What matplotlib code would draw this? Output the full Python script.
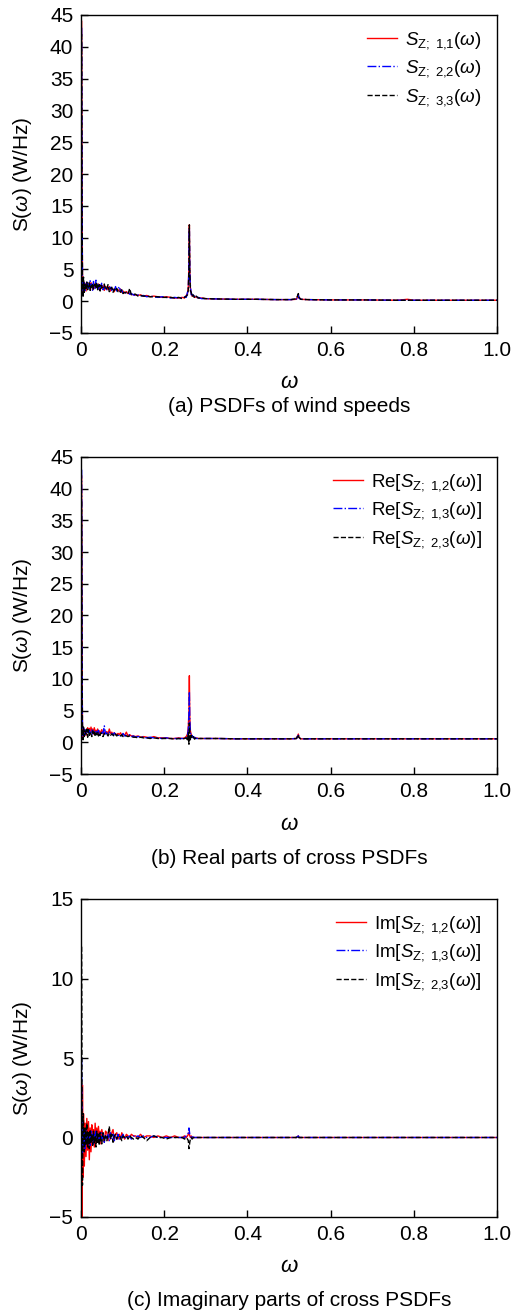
import matplotlib
matplotlib.use("Agg")
import matplotlib.pyplot as plt

plt.rcParams['font.family'] = ['Liberation Sans', 'DejaVu Sans']
plt.rcParams['mathtext.fontset'] = 'custom'
plt.rcParams['mathtext.rm'] = 'Liberation Sans'
plt.rcParams['mathtext.it'] = 'Liberation Sans:italic'
plt.rcParams['mathtext.bf'] = 'Liberation Sans:bold'

# frequency grid (shared by all series)
omega = [
    0.0015, 0.0025, 0.0035, 0.005, 0.006, 0.008, 0.010, 0.012, 0.014, 0.016,
    0.018, 0.020, 0.022, 0.024, 0.026, 0.028, 0.030, 0.032, 0.034, 0.036,
    0.038, 0.040, 0.042, 0.044, 0.046, 0.048, 0.050, 0.053, 0.056, 0.059,
    0.062, 0.065, 0.068, 0.071, 0.074, 0.077, 0.080, 0.083, 0.086, 0.089,
    0.092, 0.095, 0.098, 0.101, 0.105, 0.109, 0.113, 0.117, 0.121, 0.126,
    0.131, 0.137, 0.143, 0.150, 0.158, 0.166, 0.175, 0.185, 0.195, 0.205,
    0.215, 0.225, 0.235, 0.243, 0.249, 0.253, 0.256, 0.258, 0.2595, 0.2605,
    0.2615, 0.263, 0.265, 0.267, 0.270, 0.273, 0.277, 0.282, 0.290, 0.300,
    0.330, 0.370, 0.420, 0.470, 0.505, 0.518, 0.5225, 0.5235, 0.528, 0.545,
    0.600, 0.680, 0.760, 0.785, 0.800, 0.880, 0.950, 1.000,
]

# (a) PSDFs of wind speeds
s11 = [
    44.0, 18.0, 4.2, 1.2, 3.1, 2.0, 2.8, 1.6, 2.5, 2.9,
    2.2, 2.7, 1.9, 2.9, 2.4, 1.8, 2.6, 2.1, 2.8, 2.3,
    2.5, 2.0, 2.7, 1.8, 2.4, 2.2, 2.0, 2.5, 1.7, 2.3,
    2.1, 1.8, 2.3, 1.6, 2.0, 1.9, 1.5, 2.0, 1.7, 1.8,
    1.6, 1.9, 1.4, 1.6, 1.3, 1.5, 1.2, 1.3, 1.1, 1.0,
    1.0, 0.9, 1.0, 0.8, 0.9, 0.7, 0.8, 0.7, 0.6, 0.7,
    0.6, 0.5, 0.5, 0.6, 0.5, 0.9, 1.2, 2.3, 6.0, 12.0,
    5.0, 2.0, 1.2, 0.8, 0.9, 0.6, 0.7, 0.5, 0.5, 0.4,
    0.35, 0.3, 0.3, 0.25, 0.25, 0.3, 1.1, 0.6, 0.3, 0.25,
    0.2, 0.2, 0.15, 0.3, 0.15, 0.15, 0.15, 0.15,
]
s22 = [
    43.0, 16.0, 3.5, 0.9, 2.4, 2.9, 1.7, 2.6, 3.0, 2.1,
    2.9, 2.0, 3.2, 2.3, 2.7, 1.6, 3.1, 2.4, 2.0, 3.3,
    2.2, 2.6, 1.9, 2.8, 2.1, 2.4, 2.9, 1.8, 2.3, 2.0,
    1.8, 2.4, 1.9, 2.2, 1.7, 2.1, 1.6, 2.3, 1.6, 1.9,
    2.3, 1.5, 1.7, 1.3, 1.5, 1.2, 1.4, 1.1, 1.2, 1.0,
    0.9, 1.0, 0.8, 0.9, 0.7, 0.8, 0.7, 0.6, 0.7, 0.6,
    0.5, 0.6, 0.5, 0.5, 0.7, 0.6, 1.4, 2.0, 5.5, 11.5,
    4.5, 2.4, 1.0, 1.1, 0.7, 0.8, 0.5, 0.6, 0.4, 0.4,
    0.35, 0.3, 0.3, 0.25, 0.25, 0.35, 1.0, 0.5, 0.3, 0.25,
    0.2, 0.2, 0.15, 0.15, 0.15, 0.15, 0.15, 0.15,
]
s33 = [
    42.0, 14.0, 4.4, 0.6, 3.8, 1.4, 2.6, 2.0, 3.0, 1.8,
    2.5, 2.9, 1.7, 2.6, 2.2, 2.8, 1.9, 2.4, 2.7, 2.0,
    2.9, 1.8, 2.3, 2.6, 1.6, 2.5, 2.1, 2.2, 2.7, 1.8,
    2.0, 2.6, 1.5, 1.9, 2.2, 1.4, 1.9, 1.6, 2.0, 1.5,
    1.7, 1.4, 1.8, 1.2, 1.4, 1.3, 1.1, 2.0, 1.0, 1.1,
    1.1, 0.8, 0.9, 0.8, 0.8, 0.7, 0.7, 0.7, 0.6, 0.6,
    0.6, 0.5, 0.6, 0.4, 0.6, 0.8, 1.0, 1.8, 5.0, 12.0,
    4.8, 1.6, 1.4, 0.7, 1.0, 0.5, 0.8, 0.5, 0.5, 0.4,
    0.35, 0.3, 0.3, 0.25, 0.25, 0.4, 1.2, 0.7, 0.3, 0.25,
    0.2, 0.2, 0.15, 0.15, 0.15, 0.15, 0.15, 0.15,
]

# (b) real parts of cross PSDFs
re12 = [
    42.0, 16.0, 2.5, 0.8, 2.2, 1.3, 2.0, 1.1, 1.8, 2.3,
    1.6, 2.2, 1.4, 2.4, 1.7, 2.1, 1.3, 2.3, 1.6, 1.9,
    1.5, 2.1, 1.3, 1.8, 1.4, 1.7, 2.0, 1.3, 1.6, 1.4,
    1.7, 1.3, 2.1, 1.4, 1.6, 1.2, 1.5, 1.3, 1.2, 1.4,
    1.2, 1.5, 1.1, 1.3, 1.1, 1.6, 1.0, 1.2, 1.0, 1.0,
    0.9, 1.0, 0.8, 0.9, 0.8, 0.7, 0.9, 0.7, 0.7, 0.7,
    0.6, 0.6, 0.7, 0.6, 0.7, 0.9, 1.3, 2.5, 5.0, 10.5,
    4.0, 1.8, 1.2, 0.9, 0.8, 0.7, 0.7, 0.6, 0.6, 0.6,
    0.6, 0.55, 0.55, 0.55, 0.55, 0.6, 1.3, 0.8, 0.55, 0.55,
    0.55, 0.55, 0.55, 0.55, 0.55, 0.55, 0.55, 0.55,
]
re13 = [
    43.0, 14.0, 2.0, 1.0, 1.6, 2.3, 1.2, 1.9, 1.4, 2.0,
    1.5, 1.9, 1.2, 1.7, 2.0, 1.3, 1.8, 1.5, 1.2, 1.7,
    1.4, 1.6, 1.9, 1.2, 1.5, 1.3, 1.6, 1.4, 2.6, 1.3,
    1.5, 1.2, 1.6, 1.3, 1.4, 1.1, 1.5, 1.2, 1.3, 1.1,
    1.1, 1.2, 1.0, 1.4, 1.0, 1.1, 1.0, 1.2, 0.9, 1.0,
    0.8, 0.9, 0.9, 0.8, 0.7, 0.8, 0.7, 0.7, 0.6, 0.7,
    0.6, 0.6, 0.6, 0.6, 0.6, 0.8, 1.1, 2.0, 4.5, 8.0,
    3.5, 1.5, 1.0, 1.1, 0.7, 0.8, 0.6, 0.6, 0.6, 0.6,
    0.6, 0.55, 0.55, 0.55, 0.55, 0.6, 1.1, 0.7, 0.55, 0.55,
    0.55, 0.55, 0.55, 0.55, 0.55, 0.55, 0.55, 0.55,
]
re23 = [
    38.0, 12.0, 2.7, 0.4, 2.4, 0.9, 1.8, 1.3, 2.1, 0.8,
    2.0, 1.1, 1.7, 1.3, 0.9, 1.8, 1.2, 1.6, 0.9, 1.5,
    1.2, 1.6, 1.0, 1.4, 1.1, 1.5, 1.2, 0.9, 1.4, 1.2,
    1.3, 1.0, 1.4, 1.1, 1.3, 1.2, 0.9, 1.3, 1.0, 1.2,
    1.1, 1.0, 1.2, 0.9, 1.1, 1.0, 0.9, 1.0, 0.9, 0.8,
    0.8, 0.7, 0.8, 0.7, 0.7, 0.6, 0.7, 0.6, 0.6, 0.6,
    0.6, 0.5, 0.6, 0.5, 0.6, 0.7, 0.2, 1.5, -0.3, 3.0,
    1.5, 0.4, 1.1, 0.6, 0.9, 0.5, 0.7, 0.6, 0.6, 0.6,
    0.6, 0.55, 0.55, 0.55, 0.55, 0.6, 1.2, 0.8, 0.55, 0.55,
    0.55, 0.55, 0.55, 0.55, 0.55, 0.55, 0.55, 0.55,
]

# (c) imaginary parts of cross PSDFs
im12 = [
    0.0, -5.0, 3.3, -2.5, 1.5, -1.8, 0.9, -1.2, 1.2, -0.8,
    1.0, -1.4, 0.6, -0.9, 0.8, -0.3, 0.5, -0.6, 0.9, -0.4,
    0.6, -0.3, 0.7, -0.2, 0.4, -0.4, 0.5, 0.1, -0.3, 0.4,
    0.3, -0.2, 0.4, -0.1, 0.3, 0.5, -0.2, 0.2, 0.3, -0.1,
    0.2, -0.1, 0.3, 0.1, -0.1, 0.2, 0.1, 0.0, 0.2, 0.1,
    0.1, 0.0, 0.2, 0.0, 0.1, 0.1, 0.0, 0.1, 0.0, 0.1,
    0.0, 0.1, 0.0, 0.0, 0.1, 0.0, 0.1, 0.2, 0.3, 0.2,
    0.1, 0.0, 0.1, 0.0, 0.0, 0.0, 0.0, 0.0, 0.0, 0.0,
    0.0, 0.0, 0.0, 0.0, 0.0, 0.0, 0.1, 0.0, 0.0, 0.0,
    0.0, 0.0, 0.0, 0.0, 0.0, 0.0, 0.0, 0.0,
]
im13 = [
    5.0, 1.0, -1.0, 0.6, -0.5, 0.4, -0.7, 0.5, -0.3, 0.2,
    -0.4, 0.3, -0.5, 0.4, -0.2, 0.3, -0.4, 0.2, -0.3, 0.4,
    -0.2, 0.3, -0.3, 0.2, -0.2, 0.3, -0.1, 0.2, -0.3, 0.2,
    -0.1, 0.2, -0.2, 0.3, -0.1, 0.2, -0.2, 0.1, -0.1, 0.2,
    -0.1, 0.1, 0.0, 0.2, -0.1, 0.1, 0.0, 0.1, -0.1, 0.1,
    0.0, 0.1, 0.0, 0.1, 0.0, 0.0, 0.1, 0.0, 0.0, 0.0,
    0.0, 0.0, 0.0, 0.0, 0.0, 0.1, 0.2, 0.3, 0.6, 0.4,
    0.2, 0.1, 0.0, 0.1, 0.0, 0.0, 0.0, 0.0, 0.0, 0.0,
    0.0, 0.0, 0.0, 0.0, 0.0, 0.0, 0.1, 0.0, 0.0, 0.0,
    0.0, 0.0, 0.0, 0.0, 0.0, 0.0, 0.0, 0.0,
]
im23 = [
    12.0, 2.0, -3.0, 1.5, 1.0, -0.9, 0.6, -0.5, 0.9, -0.6,
    0.3, -0.7, 0.5, -0.3, 0.2, -0.5, 0.4, -0.4, 0.1, -0.6,
    0.4, -0.3, 0.2, -0.5, 0.3, -0.2, -0.4, 0.3, -0.2, 0.1,
    -0.2, 0.2, 0.7, -0.1, 0.2, -0.3, 0.1, 0.2, -0.1, 0.1,
    0.1, 0.0, -0.2, 0.1, 0.0, 0.1, -0.1, 0.1, 0.0, -0.1,
    0.0, -0.1, 0.1, 0.0, -0.2, 0.0, 0.1, 0.0, 0.0, -0.1,
    0.0, 0.0, 0.0, 0.0, -0.1, 0.0, -0.1, -0.2, -0.7, -0.5,
    -0.3, -0.1, 0.0, -0.1, 0.0, 0.0, 0.0, 0.0, 0.0, 0.0,
    0.0, 0.0, 0.0, 0.0, 0.0, 0.0, 0.1, 0.0, 0.0, 0.0,
    0.0, 0.0, 0.0, 0.0, 0.0, 0.0, 0.0, 0.0,
]

xticks = [0, 0.2, 0.4, 0.6, 0.8, 1.0]
xticklabels = ['0', '0.2', '0.4', '0.6', '0.8', '1.0']

panels = [
    dict(series=[s11, s22, s33],
         labels=[r'$S_{\mathrm{Z;\ 1{,}1}}(\omega)$', r'$S_{\mathrm{Z;\ 2{,}2}}(\omega)$',
                 r'$S_{\mathrm{Z;\ 3{,}3}}(\omega)$'],
         ylim=(-5, 45), yticks=list(range(-5, 50, 5)),
         caption='(a) PSDFs of wind speeds'),
    dict(series=[re12, re13, re23],
         labels=[r'Re[$S_{\mathrm{Z;\ 1{,}2}}(\omega)$]', r'Re[$S_{\mathrm{Z;\ 1{,}3}}(\omega)$]',
                 r'Re[$S_{\mathrm{Z;\ 2{,}3}}(\omega)$]'],
         ylim=(-5, 45), yticks=list(range(-5, 50, 5)),
         caption='(b) Real parts of cross PSDFs'),
    dict(series=[im12, im13, im23],
         labels=[r'Im[$S_{\mathrm{Z;\ 1{,}2}}(\omega)$]', r'Im[$S_{\mathrm{Z;\ 1{,}3}}(\omega)$]',
                 r'Im[$S_{\mathrm{Z;\ 2{,}3}}(\omega)$]'],
         ylim=(-5, 15), yticks=[-5, 0, 5, 10, 15],
         caption='(c) Imaginary parts of cross PSDFs'),
]

colors = ['red', 'blue', 'black']
styles = ['-', '-.', '--']

W, H = 514, 1315
fig = plt.figure(figsize=(W / 100, H / 100), dpi=100)

# axes boxes in pixels (top, bottom); left/right shared
boxes = [(15, 333), (457, 774), (899, 1217)]
captions_y = [407, 858, 1300]
left, right = 81, 497

for p, (top, bot), cy in zip(panels, boxes, captions_y):
    ax = fig.add_axes([left / W, 1 - bot / H, (right - left) / W, (bot - top) / H])
    for ys, c, ls, lab in zip(p['series'], colors, styles, p['labels']):
        ax.plot(omega, ys, color=c, ls=ls, lw=1.0, label=lab)
    ax.set_xlim(0, 1)
    ax.set_ylim(*p['ylim'])
    ax.set_yticks(p['yticks'])
    ax.set_xticks(xticks)
    ax.set_xticklabels(xticklabels)
    ax.tick_params(direction='in', length=5, width=1, labelsize=15, pad=5.5)
    for sp in ax.spines.values():
        sp.set_linewidth(1.0)
    ax.set_xlabel(r'$\omega$', fontsize=16)
    ax.xaxis.label.set_va('center')
    ax.xaxis.set_label_coords(0.5, -50 / (bot - top))
    ax.set_ylabel(r'S($\omega$) (W/Hz)', fontsize=15)
    ax.yaxis.label.set_va('center')
    ax.yaxis.set_label_coords(-(left - 22) / (right - left), 0.5)
    ax.legend(loc='upper right', frameon=False, fontsize=13.5, handlelength=1.6,
              labelspacing=0.4, borderaxespad=0.4, handletextpad=0.45)
    fig.text((left + right) / 2 / W, 1 - cy / H, p['caption'],
             ha='center', va='center', fontsize=15)

fig.savefig('out.png', dpi=100)
